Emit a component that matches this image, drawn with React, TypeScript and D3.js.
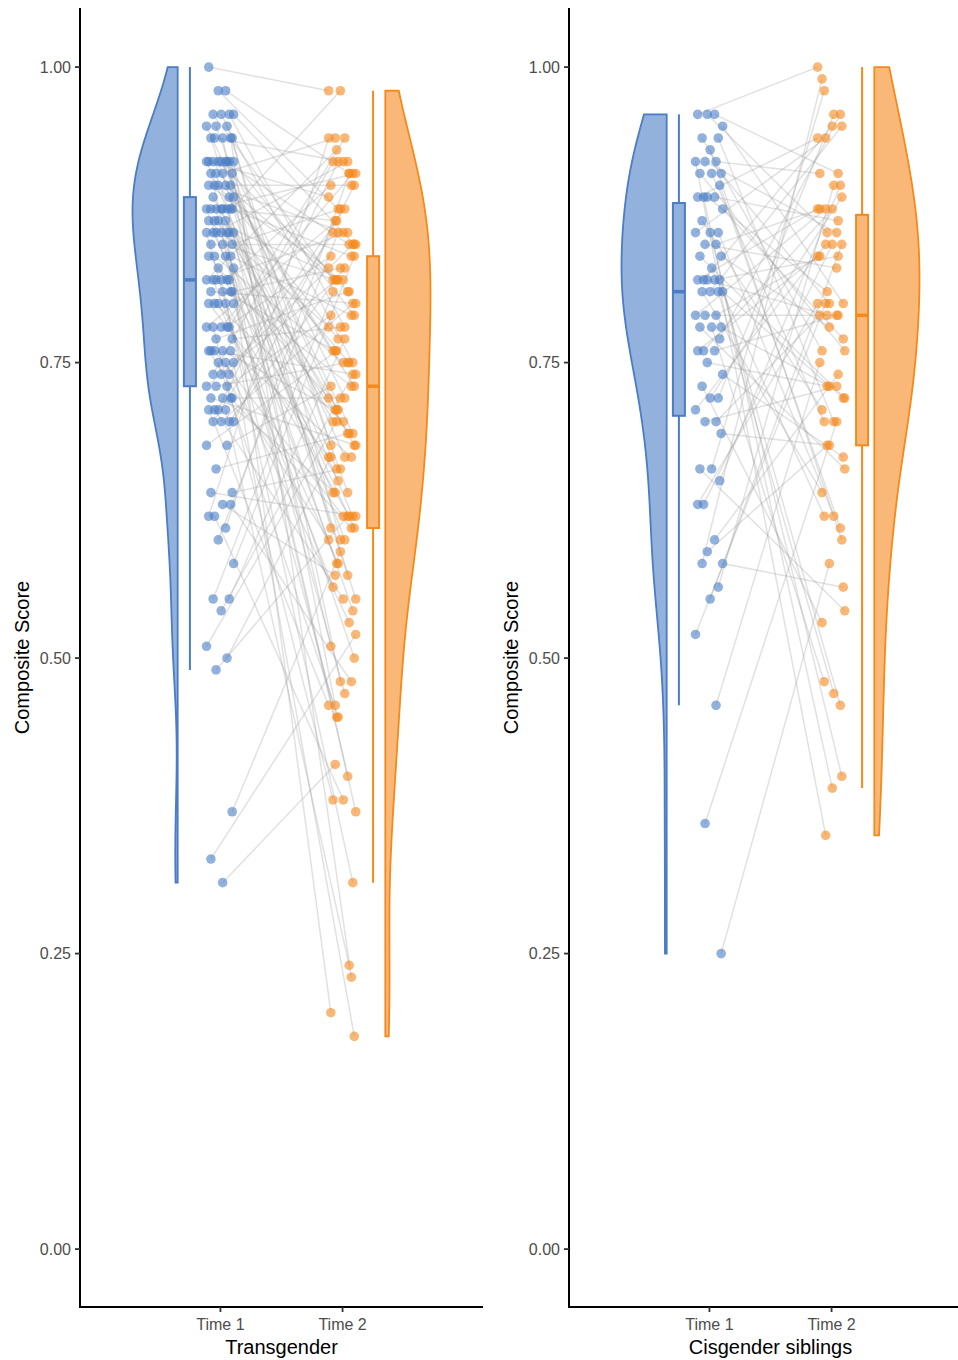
import React from "react";
import * as d3 from "d3";

// composite scores, one entry per participant (same order in Time 1 and Time 2)
const transTime1 = [
  1.0, 0.98, 0.98, 0.96, 0.96, 0.96, 0.96, 0.95, 0.95, 0.95, 0.94, 0.94, 0.94, 0.94, 0.94,
  0.92, 0.92, 0.92, 0.92, 0.92, 0.92, 0.92, 0.92, 0.92, 0.91, 0.91, 0.91, 0.91,
  0.9, 0.9, 0.9, 0.9, 0.9, 0.89, 0.89, 0.89, 0.88, 0.88, 0.88, 0.88, 0.88, 0.88, 0.88, 0.88,
  0.87, 0.87, 0.87, 0.87, 0.86, 0.86, 0.86, 0.86, 0.86, 0.86, 0.86, 0.85, 0.85, 0.85,
  0.84, 0.84, 0.84, 0.84, 0.83, 0.83, 0.82, 0.82, 0.82, 0.82, 0.82, 0.82, 0.81, 0.81, 0.81, 0.81,
  0.8, 0.8, 0.8, 0.8, 0.8, 0.78, 0.78, 0.78, 0.78, 0.78, 0.77, 0.77, 0.76, 0.76, 0.76, 0.76, 0.76,
  0.75, 0.75, 0.75, 0.74, 0.74, 0.74, 0.73, 0.73, 0.73, 0.72, 0.72, 0.72, 0.72,
  0.71, 0.71, 0.71, 0.71, 0.7, 0.7, 0.7, 0.7, 0.68, 0.68, 0.66, 0.64, 0.64, 0.63, 0.63, 0.62, 0.62,
  0.61, 0.6, 0.58, 0.55, 0.55, 0.54, 0.51, 0.5, 0.49, 0.37, 0.33, 0.31,
];
const transTime2 = [
  0.98, 0.91, 0.88, 0.85, 0.82, 0.78, 0.75, 0.71, 0.68, 0.64, 0.6, 0.55, 0.46, 0.23,
  0.92, 0.89, 0.85, 0.82, 0.79, 0.76, 0.72, 0.69, 0.66, 0.61, 0.57, 0.48, 0.37,
  0.94, 0.9, 0.86, 0.83, 0.81, 0.77, 0.73, 0.7, 0.67, 0.62, 0.58, 0.51, 0.4,
  0.98, 0.91, 0.87, 0.84, 0.82, 0.78, 0.75, 0.71, 0.68, 0.64, 0.6, 0.54, 0.45, 0.2,
  0.92, 0.88, 0.85, 0.82, 0.79, 0.75, 0.72, 0.69, 0.65, 0.61, 0.56, 0.47, 0.31,
  0.93, 0.9, 0.86, 0.83, 0.8, 0.76, 0.73, 0.7, 0.67, 0.62, 0.58, 0.5, 0.38,
  0.94, 0.91, 0.87, 0.84, 0.81, 0.78, 0.74, 0.71, 0.67, 0.62, 0.6, 0.53, 0.45, 0.18,
  0.92, 0.88, 0.85, 0.82, 0.79, 0.75, 0.72, 0.68, 0.64, 0.61, 0.55, 0.46, 0.24,
  0.92, 0.9, 0.86, 0.83, 0.8, 0.76, 0.73, 0.69, 0.66, 0.62, 0.57, 0.48, 0.38,
  0.94, 0.91, 0.86, 0.84, 0.81, 0.77, 0.74, 0.7, 0.67, 0.62, 0.59, 0.52, 0.41,
];
const cisTime1 = [
  0.96, 0.96, 0.96, 0.95, 0.94, 0.94, 0.93, 0.92, 0.92, 0.92, 0.91, 0.91, 0.91, 0.9,
  0.89, 0.89, 0.89, 0.89, 0.88, 0.87, 0.86, 0.86, 0.86, 0.85, 0.85, 0.84, 0.84, 0.83,
  0.82, 0.82, 0.82, 0.82, 0.82, 0.81, 0.81, 0.81, 0.81, 0.79, 0.79, 0.79, 0.78, 0.78, 0.78,
  0.77, 0.76, 0.76, 0.76, 0.75, 0.74, 0.73, 0.72, 0.72, 0.71, 0.7, 0.7, 0.69,
  0.66, 0.66, 0.65, 0.63, 0.63, 0.6, 0.59, 0.58, 0.58, 0.56, 0.55, 0.52, 0.46, 0.36, 0.25,
];
const cisTime2 = [
  1.0, 0.91, 0.86, 0.8, 0.76, 0.7, 0.6, 0.35,
  0.91, 0.86, 0.8, 0.76, 0.7, 0.61, 0.39,
  0.94, 0.87, 0.81, 0.77, 0.71, 0.62, 0.4,
  0.94, 0.88, 0.83, 0.78, 0.72, 0.62, 0.46,
  0.95, 0.88, 0.84, 0.79, 0.72, 0.64, 0.47,
  0.95, 0.88, 0.84, 0.79, 0.73, 0.66, 0.48,
  0.96, 0.88, 0.84, 0.79, 0.73, 0.67, 0.53,
  0.96, 0.89, 0.85, 0.79, 0.73, 0.68, 0.54,
  0.98, 0.9, 0.85, 0.8, 0.74, 0.68, 0.56,
  0.99, 0.9, 0.85, 0.8, 0.75, 0.7, 0.58,
];

const timeLabels = ["Time 1", "Time 2"];
const yTicks = [0, 0.25, 0.5, 0.75, 1];
const panels = [
  { title: "Transgender", t1: transTime1, t2: transTime2, left: 80 },
  { title: "Cisgender siblings", t1: cisTime1, t2: cisTime2, left: 569 },
];

const BLUE = "#4A7DC5";
const ORANGE = "#F5891C";
const W = 958;
const H = 1360;
const PANEL_W = 403;
const TOP = 8;
const BOTTOM = 1307;
const FONT = "'Liberation Sans', Arial, Helvetica, sans-serif";

// jitter pattern (fraction of jitter half-width)
const jitterSteps = [-0.8, 0.35, -0.15, 0.9, -0.5, 0.6, 0.05, -0.95, 0.45, -0.3, 0.8, -0.65, 0.15, 0.7, -0.4];

function density(vals: number[]) {
  const s = [...vals].sort(d3.ascending);
  const n = s.length;
  const sd = d3.deviation(s) as number;
  const iqr = (d3.quantileSorted(s, 0.75) as number) - (d3.quantileSorted(s, 0.25) as number);
  const bw = 0.9 * Math.min(sd, iqr / 1.34) * Math.pow(n, -0.2);
  const lo = s[0];
  const hi = s[n - 1];
  return d3.range(0, 201).map((i) => {
    const g = lo + ((hi - lo) * i) / 200;
    const d = d3.mean(s, (v) => Math.exp(-0.5 * ((g - v) / bw) ** 2)) as number;
    return [g, d] as [number, number];
  });
}

function boxStats(vals: number[]) {
  const s = [...vals].sort(d3.ascending);
  const q1 = d3.quantileSorted(s, 0.25) as number;
  const med = d3.quantileSorted(s, 0.5) as number;
  const q3 = d3.quantileSorted(s, 0.75) as number;
  const iqr = q3 - q1;
  const lo = d3.min(s.filter((v) => v >= q1 - 1.5 * iqr - 1e-9)) as number;
  const hi = d3.max(s.filter((v) => v <= q3 + 1.5 * iqr + 1e-9)) as number;
  return { q1, med, q3, lo, hi };
}

function Panel({ title, t1, t2, left, x, y }: any) {
  const jit = (i: number, shift: number) => jitterSteps[(i + shift) % jitterSteps.length] * 0.12;
  const p1 = t1.map((v: number, i: number) => [x(1 + jit(i, 0)), y(v)]);
  const p2 = t2.map((v: number, i: number) => [x(2 + jit(i, 7)), y(v)]);
  const n = Math.min(t1.length, t2.length);
  const maxW = x(0.37) - x(0);

  const groups = [
    { vals: t1, color: BLUE, box: 0.75, edge: 0.65, dir: -1 },
    { vals: t2, color: ORANGE, box: 2.25, edge: 2.35, dir: 1 },
  ];

  return (
    <g transform={`translate(${left},0)`}>
      {/* paired lines */}
      <g stroke="#9a9a9a" strokeOpacity={0.3} strokeWidth={1.5}>
        {d3.range(n).map((i) => (
          <line key={i} x1={p1[i][0]} y1={p1[i][1]} x2={p2[i][0]} y2={p2[i][1]} />
        ))}
      </g>

      {groups.map((g, k) => {
        const dens = density(g.vals);
        const dmax = d3.max(dens, (d) => d[1]) as number;
        const ex = x(g.edge);
        const area = d3
          .area<[number, number]>()
          .y((d) => y(d[0]))
          .x0(ex)
          .x1((d) => ex + g.dir * (d[1] / dmax) * maxW);
        const b = boxStats(g.vals);
        const bx = x(g.box);
        return (
          <g key={k}>
            <path d={area(dens) as string} fill={g.color} fillOpacity={0.6} stroke={g.color} strokeWidth={1.8} />
            <line x1={bx} x2={bx} y1={y(b.q3)} y2={y(b.hi)} stroke={g.color} strokeWidth={2} />
            <line x1={bx} x2={bx} y1={y(b.q1)} y2={y(b.lo)} stroke={g.color} strokeWidth={2} />
            <rect x={bx - 6} width={12} y={y(b.q3)} height={y(b.q1) - y(b.q3)} fill={g.color} fillOpacity={0.6} stroke={g.color} strokeWidth={2} />
            <line x1={bx - 6} x2={bx + 6} y1={y(b.med)} y2={y(b.med)} stroke={g.color} strokeWidth={3.5} />
          </g>
        );
      })}

      {/* points */}
      <g fill={BLUE} fillOpacity={0.6}>
        {p1.map((p: number[], i: number) => (
          <circle key={i} cx={p[0]} cy={p[1]} r={4.8} />
        ))}
      </g>
      <g fill={ORANGE} fillOpacity={0.6}>
        {p2.map((p: number[], i: number) => (
          <circle key={i} cx={p[0]} cy={p[1]} r={4.8} />
        ))}
      </g>

      {/* axes */}
      <line x1={0} x2={0} y1={TOP} y2={BOTTOM + 1} stroke="#000" strokeWidth={2} />
      <line x1={-1} x2={PANEL_W} y1={BOTTOM} y2={BOTTOM} stroke="#000" strokeWidth={2} />
      {yTicks.map((t) => (
        <g key={t} transform={`translate(0,${y(t)})`}>
          <line x1={-5} x2={0} stroke="#333" strokeWidth={1.8} />
          <text x={-9} dy="0.35em" textAnchor="end" fontSize={16} fill="#4D4D4D">
            {d3.format(".2f")(t)}
          </text>
        </g>
      ))}
      {timeLabels.map((l, i) => (
        <g key={l} transform={`translate(${x(i + 1)},${BOTTOM})`}>
          <line y1={0} y2={5} stroke="#333" strokeWidth={1.8} />
          <text y={23} textAnchor="middle" fontSize={16} fill="#4D4D4D">
            {l}
          </text>
        </g>
      ))}
      <text x={PANEL_W / 2} y={1354} textAnchor="middle" fontSize={20} fill="#000">
        {title}
      </text>
      <text transform={`translate(-51,${(TOP + BOTTOM) / 2}) rotate(-90)`} textAnchor="middle" fontSize={20} fill="#000">
        Composite Score
      </text>
    </g>
  );
}

export default function App() {
  const y = d3.scaleLinear().domain([-0.049, 1.05]).range([BOTTOM, TOP]);
  const x = d3.scaleLinear().domain([-0.15, 3.15]).range([0, PANEL_W]);
  return (
    <svg
      width={W}
      height={H}
      fontFamily={FONT}
      style={{ position: "absolute", left: 0, top: 0, background: "#fff" }}
    >
      {panels.map((p) => (
        <Panel key={p.title} title={p.title} t1={p.t1} t2={p.t2} left={p.left} x={x} y={y} />
      ))}
    </svg>
  );
}
